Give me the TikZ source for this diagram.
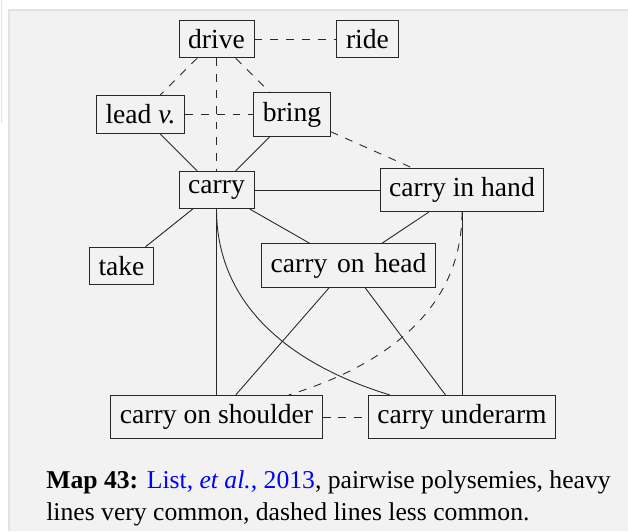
\documentclass[tikz,border=0pt]{standalone}
\usepackage{fontspec}
\setmainfont{Liberation Serif}
\definecolor{mapgray}{RGB}{242,242,242}
\definecolor{maprule}{RGB}{226,226,226}
\definecolor{mapblue}{RGB}{0,0,255}
\definecolor{mapline}{RGB}{40,40,40}

\begin{document}
\begin{tikzpicture}[
  sense/.style={draw=mapline,line width=0.5pt,inner sep=5.2pt,
    font=\fontsize{15.7}{18}\selectfont},
  heavy/.style={mapline,line width=0.5pt},
  rare/.style={mapline,line width=0.5pt,dash pattern=on 4.5pt off 4.5pt}
]
  \useasboundingbox (0,0) rectangle (12.56,-10.62);
  % Background
  \fill[mapgray] (0.18,-0.2) rectangle (12.56,-10.62);
  \draw[maprule,line width=0.8pt] (0.18,-10.62) -- (0.18,-0.2) -- (12.56,-0.2);
  \draw[maprule,line width=0.4pt] (0.02,0) -- (0.02,-2.46);

  % Senses
  \node[sense] (drive) at (4.33,-0.78) {drive};
  \node[sense] (ride) at (7.35,-0.78) {ride};
  \node[sense] (lead) at (2.81,-2.29) {lead \textit{v.}};
  \node[sense] (bring) at (5.84,-2.29) {bring};
  \node[sense] (carry) at (4.33,-3.80) {carry};
  \node[sense] (inhand) at (9.24,-3.80) {carry in hand};
  \node[sense] (take) at (2.43,-5.32) {take};
  \node[sense] (onhead) at (6.97,-5.31) {carry\hspace{0.1em} on\hspace{0.1em} head};
  \node[sense] (shoulder) at (4.33,-8.34) {carry on shoulder};
  \node[sense] (underarm) at (9.24,-8.34) {carry underarm};

  % Less common
  \draw[rare] (drive) -- (ride);
  \draw[rare] (drive) -- (lead);
  \draw[rare] (drive) -- (bring);
  \draw[rare] (drive) -- (carry);
  \draw[rare] (lead) -- (bring);
  \draw[rare] (bring) -- (inhand);
  \draw[rare] (inhand) to[out=-90,in=17] (shoulder);
  \draw[rare] (shoulder) -- (underarm);

  % Very common
  \draw[heavy] (lead) -- (carry);
  \draw[heavy] (bring) -- (carry);
  \draw[heavy] (carry) -- (inhand);
  \draw[heavy] (carry) -- (take);
  \draw[heavy] (carry) -- (onhead);
  \draw[heavy] (inhand) -- (onhead);
  \draw[heavy] (carry) -- (shoulder);
  \draw[heavy] (carry) to[out=-90,in=163] (underarm);
  \draw[heavy] (inhand) -- (underarm);
  \draw[heavy] (onhead) -- (shoulder);
  \draw[heavy] (onhead) -- (underarm);

  % Caption
  \node[anchor=base west,align=left,inner sep=0pt,
    font=\fontsize{14.6}{18.14}\selectfont] (caption) at (0.92,-10.414)
    {\textbf{Map 43:} \textcolor{mapblue}{List, \textit{et al.,} 2013}, pairwise polysemies, heavy\\
     lines very common, dashed lines less common.};
\end{tikzpicture}
\end{document}
